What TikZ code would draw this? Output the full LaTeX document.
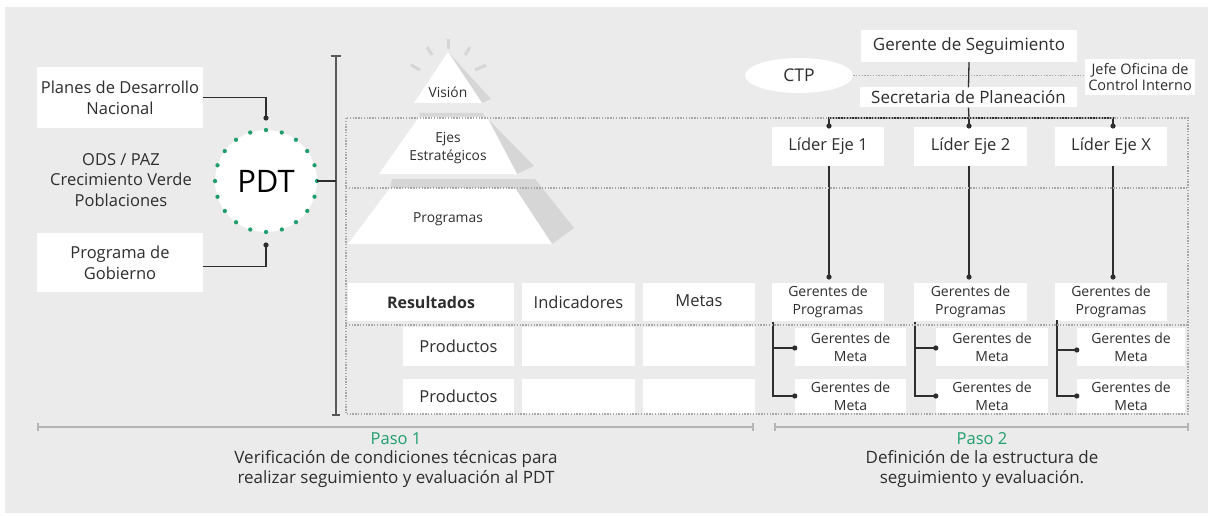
\documentclass[tikz,border=0pt]{standalone}
\usepackage{fontspec}
\setmainfont{Open Sans}
\usetikzlibrary{calc,shapes.geometric}
\definecolor{bg}{HTML}{EBEBEB}
\definecolor{txt}{HTML}{2E2E2E}
\definecolor{grn}{HTML}{1F9E6E}
\definecolor{shd}{HTML}{D6D6D6}
\definecolor{dotg}{HTML}{A8A8A8}
\definecolor{lineg}{HTML}{B5B5B5}
\begin{document}
\begin{tikzpicture}[x=1pt,y=-1pt,
  box/.style={fill=white, inner sep=0pt, text=txt, align=center, font=\fontsize{16.5}{21}\selectfont},
  smallbox/.style={box, font=\fontsize{14}{18}\selectfont},
  pyrtext/.style={text=txt, align=center, font=\fontsize{13.8}{17}\selectfont},
  conn/.style={draw=txt, line width=1.3pt},
  dotline/.style={draw=dotg, line width=1.4pt, dash pattern=on 1.4pt off 1.4pt},
  scaleline/.style={draw=lineg, line width=1.4pt},
]
\useasboundingbox (0,0) rectangle (1210,516);
\fill[white] (0,0) rectangle (1210,516);
\fill[bg] (5,7) rectangle (1208,513);

% ---------- left part ----------
\node[box, minimum width=166pt, minimum height=61pt] (planes) at (120,97.5) {Planes de Desarrollo\\Nacional};
\node[text=txt, align=center, font=\fontsize{16.5}{20.5}\selectfont] (ods) at (121,180) {ODS / PAZ\\Crecimiento Verde\\Poblaciones};
\node[box, minimum width=166pt, minimum height=59pt] (prog) at (120,262.5) {Programa de\\Gobierno};

\node[circle, fill=white, minimum size=102pt, inner sep=0pt, text=black, font=\fontsize{31}{36}\selectfont] (pdt) at (266,181) {PDT};
\draw[grn, line width=4.3pt, line cap=round, dash pattern=on 0pt off 16.022pt] (pdt.center) circle (51pt);

\coordinate (pin1) at (266,118);
\coordinate (pin2) at (266,245);
\draw[conn] (planes.east) -| (pin1);
\draw[conn] (prog.east) ++(0,4) -| (pin2);
\fill[txt] (pin1) circle (2.6pt);
\fill[txt] (pin2) circle (2.6pt);

% vertical bar
\coordinate (bartop) at (336,56);
\coordinate (barbot) at (336,415);
\coordinate (barmid) at (336,181);
\draw[draw=txt!80, line width=2pt] (bartop) -- (barbot);
\draw[draw=txt!80, line width=2pt] ($(bartop)+(-5,0)$) -- ($(bartop)+(5,0)$);
\draw[draw=txt!80, line width=2pt] ($(barbot)+(-4,0)$) -- ($(barbot)+(4,0)$);
\draw[conn] (pdt.east) -- (barmid);

% ---------- pyramid ----------
% rays
\draw[shd, line width=3pt] (448,39) -- (448,49);
\draw[shd, line width=3pt] (427,47) -- (432,55);
\draw[shd, line width=3pt] (470,47) -- (465,55);
\draw[shd, line width=3pt] (411,65) -- (420,70);
\draw[shd, line width=3pt] (486,65) -- (475,70);
% shadows
\fill[shd] (448,52) -- (491,99) -- (482,103) -- cycle;
\fill[shd] (420,113) -- (482,113) -- (534,166) -- (517,174) -- (487,117) -- (419,117) -- cycle;
\fill[shd] (392,179) -- (535,179) -- (574,228) -- (552,244) -- (515,188) -- (390,188) -- cycle;
% white tiers
\fill[white] (448,52) -- (482,103) -- (414,103) -- cycle;
\fill[white] (419,117) -- (487,117) -- (517,174) -- (379,174) -- cycle;
\fill[white] (390,188) -- (515,188) -- (552,244) -- (348,244) -- cycle;
\node[pyrtext] (vis) at (448,92) {Visión};
\node[pyrtext, font=\fontsize{13.8}{17.5}\selectfont] (ejes) at (448,148) {Ejes\\Estratégicos};
\node[pyrtext] (progs) at (448,219) {Programas};

% ---------- table ----------
\node[box, minimum width=166pt, minimum height=38pt, font=\fontsize{16}{20}\bfseries] (res) at (431,302) {Resultados};
\node[box, minimum width=113pt, minimum height=38pt] (ind) at (578.5,302) {Indicadores};
\node[box, minimum width=112pt, minimum height=38pt] (met) at (699,302) {\raisebox{3pt}{Metas}};
\node[box, minimum width=111pt, minimum height=39pt] (prod1) at (458.5,346.5) {Productos};
\node[box, minimum width=113pt, minimum height=39pt] (ind1) at (578.5,346.5) {};
\node[box, minimum width=112pt, minimum height=39pt] (met1) at (699,346.5) {};
\node[box, minimum width=111pt, minimum height=35pt] (prod2) at (458.5,396.5) {Productos};
\node[box, minimum width=113pt, minimum height=35pt] (ind2) at (578.5,396.5) {};
\node[box, minimum width=112pt, minimum height=35pt] (met2) at (699,396.5) {};

% ---------- right: org chart ----------
\node[box, minimum width=216pt, minimum height=32pt, font=\fontsize{17}{21}\selectfont] (ger) at (969,46) {Gerente de Seguimiento};
\node[ellipse, fill=white, minimum width=108pt, minimum height=35pt, inner sep=0pt, text=txt, font=\fontsize{17.5}{21}\selectfont] (ctp) at (799,75.5) {CTP};
\node[smallbox, minimum width=110pt, minimum height=36pt, font=\fontsize{14.5}{16.5}\selectfont] (jefe) at (1140,77) {Jefe Oficina de\\Control Interno};
\node[box, minimum width=217pt, minimum height=20pt, font=\fontsize{17}{21}\selectfont] (sec) at (968.5,97.5) {Secretaria de Planeación};

\node[box, minimum width=112pt, minimum height=39pt] (lid1) at (828,146.5) {Líder Eje 1};
\node[box, minimum width=113pt, minimum height=39pt] (lid2) at (970.5,146.5) {Líder Eje 2};
\node[box, minimum width=112pt, minimum height=39pt] (lid3) at (1111,146.5) {Líder Eje X};

\node[smallbox, minimum width=112pt, minimum height=38pt] (gp1) at (828,302) {Gerentes de\\Programas};
\node[smallbox, minimum width=113pt, minimum height=38pt] (gp2) at (970.5,302) {Gerentes de\\Programas};
\node[smallbox, minimum width=112pt, minimum height=38pt] (gp3) at (1111,302) {Gerentes de\\Programas};

\node[smallbox, minimum width=111pt, minimum height=38pt] (gm11) at (850.5,347) {Gerentes de\\Meta};
\node[smallbox, minimum width=111pt, minimum height=34pt] (gm12) at (850.5,396) {Gerentes de\\Meta};
\node[smallbox, minimum width=112pt, minimum height=38pt] (gm21) at (992,347) {Gerentes de\\Meta};
\node[smallbox, minimum width=112pt, minimum height=34pt] (gm22) at (992,396) {Gerentes de\\Meta};
\node[smallbox, minimum width=108pt, minimum height=38pt] (gm31) at (1131,347) {Gerentes de\\Meta};
\node[smallbox, minimum width=108pt, minimum height=34pt] (gm32) at (1131,396) {Gerentes de\\Meta};

% connectors
\draw[dotline] (ctp.east) -- (jefe.west |- ctp.east);
\draw[conn] (ger.south) -- (sec.north);
\coordinate (jn) at (969,118);
\draw[conn] (sec.south) -- (jn);
\coordinate (l1t) at (829,126);
\coordinate (l2t) at (969,126);
\coordinate (l3t) at (1113,126);
\draw[conn] (jn) -| (l1t);
\draw[conn] (jn) -| (l3t);
\draw[conn] (jn) -- (l2t);
\foreach \c in {l1t,l2t,l3t} \fill[txt] (\c) circle (2.6pt);

\coordinate (g1t) at (829,277);
\coordinate (g2t) at (969,277);
\coordinate (g3t) at (1113,277);
\draw[conn] (lid1.south -| g1t) -- (g1t);
\draw[conn] (lid2.south -| g2t) -- (g2t);
\draw[conn] (lid3.south -| g3t) -- (g3t);
\foreach \c in {g1t,g2t,g3t} \fill[txt] (\c) circle (2.6pt);

\coordinate (b1) at (773,322);
\coordinate (b2) at (915,322);
\coordinate (b3) at (1057,320);
\draw[conn] (b1) |- (gm12.west);
\draw[conn] (b1) |- ($(gm11.west)+(0,1)$);
\draw[conn] (b2) |- (gm22.west);
\draw[conn] (b2) |- ($(gm21.west)+(0,1)$);
\draw[conn] (b3) |- (gm32.west);
\draw[conn] (b3) |- ($(gm31.west)+(0,3)$);
\fill[txt] ($(gm11.west)+(0,1)$) circle (2.6pt);
\fill[txt] (gm12.west) circle (2.6pt);
\fill[txt] ($(gm21.west)+(0,1)$) circle (2.6pt);
\fill[txt] (gm22.west) circle (2.6pt);
\fill[txt] ($(gm31.west)+(0,3)$) circle (2.6pt);
\fill[txt] (gm32.west) circle (2.6pt);

% ---------- dotted frame ----------
\draw[dotline] (346,118) rectangle (1188,414);
\draw[dotline] (346,188) -- (1188,188);
\draw[dotline] (346,325) -- (1188,325);

% ---------- bottom scales ----------
\coordinate (s1a) at (38,427);
\coordinate (s1b) at (753,427);
\coordinate (s2a) at (775,427);
\coordinate (s2b) at (1188,427);
\draw[scaleline] (s1a) -- (s1b);
\draw[scaleline] (s2a) -- (s2b);
\foreach \c in {s1a,s1b,s2a,s2b} \draw[scaleline] ($(\c)+(0,-4)$) -- ($(\c)+(0,4)$);

\node[text=grn, font=\fontsize{16.5}{20}\selectfont] (paso1) at (396,439) {Paso 1};
\node[text=txt, align=center, font=\fontsize{17}{20.5}\selectfont] (d1) at (396,469) {Verificación de condiciones técnicas para\\realizar seguimiento y evaluación al PDT};
\node[text=grn, font=\fontsize{16.5}{20}\selectfont] (paso2) at (982,439) {Paso 2};
\node[text=txt, align=center, font=\fontsize{17}{20.5}\selectfont] (d2) at (982,469) {Definición de la estructura de\\seguimiento y evaluación.};
\end{tikzpicture}
\end{document}
